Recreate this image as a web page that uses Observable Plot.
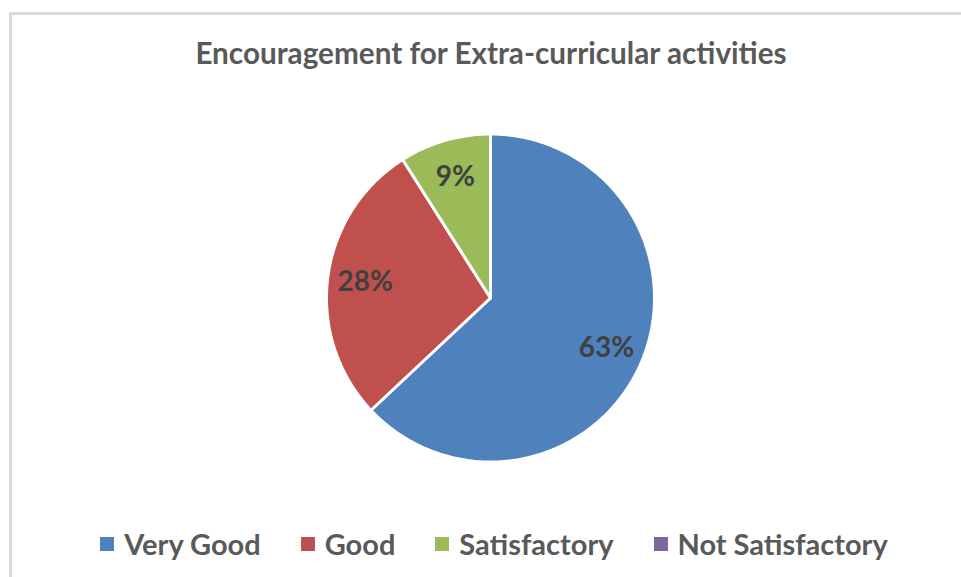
<!DOCTYPE html>
<html>
<head>
<meta charset="utf-8">
<script src="https://cdn.jsdelivr.net/npm/d3@7"></script>
<script src="https://cdn.jsdelivr.net/npm/@observablehq/plot@0.6"></script>
<style>
  html, body { margin: 0; padding: 0; background: #fff; overflow: hidden; }
  #page { position: relative; width: 961px; height: 577px; }
  #frame { position: absolute; left: 9px; top: 12px; right: 0; bottom: 0;
           border-left: 3px solid #d9d9d9; border-top: 3px solid #d9d9d9; }
  #title { position: absolute; left: 0; width: 982px; top: 37px; text-align: center;
           font-family: Lato, "Open Sans", sans-serif; font-weight: 700; font-size: 29.7px;
           line-height: 32px; color: #595959; white-space: nowrap; }
  #chart { position: absolute; left: 0; top: 0; }
  #legend { position: absolute; left: 0; width: 988px; top: 527px; display: flex;
            justify-content: center; gap: 40px; font-family: Lato, "Open Sans", sans-serif;
            font-weight: 700; font-size: 29px; line-height: 34px; color: #595959; white-space: nowrap; }
  .item { display: flex; align-items: center; gap: 10px; }
  .sw { width: 14px; height: 14px; display: inline-block; }
</style>
</head>
<body>
<div id="page">
  <div id="frame"></div>
  <div id="chart"></div>
  <div id="title"></div>
  <div id="legend"></div>
</div>
<script>
const title = "Encouragement for Extra-curricular activities";
const categories = ["Very Good", "Good", "Satisfactory", "Not Satisfactory"];
const values = [63, 28, 9, 0];
const colors = ["#4F81BD", "#C0504D", "#9BBB59", "#8064A2"];

const rows = categories.map((c, i) => ({cat: c, value: values[i]}));
const arcs = d3.pie().sort(null).value(d => d.value).startAngle(0).endAngle(2 * Math.PI)(rows);

// build wedge outlines (unit circle coordinates) from pie angles
const wedgePts = [];
const labelPts = [];
const total = d3.sum(values);
for (const a of arcs) {
  if (a.data.value <= 0) continue;
  const n = Math.max(2, Math.ceil((a.endAngle - a.startAngle) / (Math.PI / 180)));
  wedgePts.push({cat: a.data.cat, x: 0, y: 0});
  for (let k = 0; k <= n; k++) {
    const t = a.startAngle + (a.endAngle - a.startAngle) * k / n;
    wedgePts.push({cat: a.data.cat, x: Math.sin(t), y: Math.cos(t)});
  }
  wedgePts.push({cat: a.data.cat, x: 0, y: 0});
  const m = (a.startAngle + a.endAngle) / 2;
  const r = 0.77;
  labelPts.push({cat: a.data.cat, x: r * Math.sin(m), y: r * Math.cos(m),
                 label: Math.round(a.data.value / total * 100) + "%"});
}

const cx = 490, cy = 297.5, R = 164;
const plot = Plot.plot({
  width: 961,
  height: 577,
  margin: 0,
  x: {domain: [-1, 1], range: [cx - R, cx + R], axis: null},
  y: {domain: [-1, 1], range: [cy + R, cy - R], axis: null},
  color: {domain: categories, range: colors},
  style: {background: "transparent"},
  marks: [
    Plot.line(wedgePts, {x: "x", y: "y", z: "cat", fill: "cat", stroke: "white",
                         strokeWidth: 3, strokeLinejoin: "miter", curve: "linear"}),
    Plot.text(labelPts, {x: "x", y: "y", text: "label", fill: "#404040",
                         fontSize: 28, fontWeight: 700, fontFamily: "Lato, 'Open Sans', sans-serif",
                         textAnchor: "middle", lineAnchor: "middle"})
  ]
});
document.getElementById("chart").appendChild(plot);
document.getElementById("title").textContent = title;

const legend = document.getElementById("legend");
categories.forEach((c, i) => {
  const it = document.createElement("div");
  it.className = "item";
  const sw = document.createElement("span");
  sw.className = "sw";
  sw.style.background = colors[i];
  const tx = document.createElement("span");
  tx.textContent = c;
  it.appendChild(sw);
  it.appendChild(tx);
  legend.appendChild(it);
});
</script>
</body>
</html>
